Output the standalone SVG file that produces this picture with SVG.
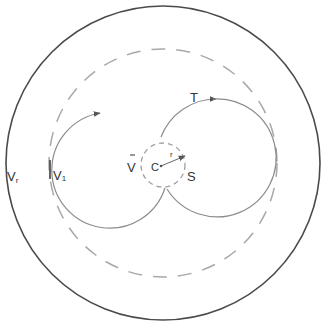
<svg xmlns="http://www.w3.org/2000/svg" width="321" height="325" viewBox="0 0 321 325">
<style>
.outer{fill:none;stroke:#4a4a4a;stroke-width:1.6}
.dash{fill:none;stroke:#a8a8a8;stroke-width:1.5;stroke-dasharray:14 11}
.sdash{fill:none;stroke:#a0a0a0;stroke-width:1.3;stroke-dasharray:5 4}
.loop{fill:none;stroke:#8c8c8c;stroke-width:1.2}
.lbl{font-family:"Liberation Sans",Arial,sans-serif;fill:#333;font-size:13px}
.sub{font-family:"Liberation Sans",Arial,sans-serif;fill:#333;font-size:8px}
</style>
<defs>
<marker id="arr" viewBox="0 0 10 10" refX="9" refY="5" markerWidth="7" markerHeight="7" markerUnits="userSpaceOnUse" orient="auto">
<path d="M0,1 L10,5 L0,9 Z" fill="#555"/>
</marker>
</defs>
<g id="outer-circle"><circle class="outer" cx="163" cy="163" r="157"/></g>
<g id="orbit-dashed"><circle class="dash" cx="163" cy="163" r="114"/></g>
<g id="sun-region"><circle class="sdash" cx="163" cy="165" r="22"/></g>
<g id="connectors">
<path id="left-loop" class="loop" d="M165,188 A58,58 0 1 1 100,113" marker-end="url(#arr)"/>
<path id="right-loop-a" class="loop" d="M161,137 A59,59 0 0 1 216,99" marker-end="url(#arr)"/>
<path id="right-loop-b" class="loop" d="M213,99 A59,59 0 1 1 167,189"/>
<line x1="161" y1="166" x2="185" y2="156" stroke="#666" stroke-width="1" marker-end="url(#arr)"/>
<circle cx="161" cy="166" r="1.3" fill="#555"/>
<line x1="50" y1="160" x2="50" y2="179" stroke="#555" stroke-width="1.8"/>
</g>
<g id="labels">
<text class="lbl" x="7" y="181">V<tspan class="sub" dy="2">r</tspan></text>
<text class="lbl" x="53" y="180">V<tspan class="sub" dy="1">1</tspan></text>
<text class="lbl" x="127" y="172">V</text>
<line x1="130" y1="155" x2="135" y2="155" stroke="#333" stroke-width="1"/>
<text class="lbl" x="151" y="171" style="font-size:11px">C</text>
<text class="sub" x="170" y="157">r</text>
<text class="lbl" x="187" y="181">S</text>
<text class="lbl" x="190" y="102">T</text>
</g>
</svg>
